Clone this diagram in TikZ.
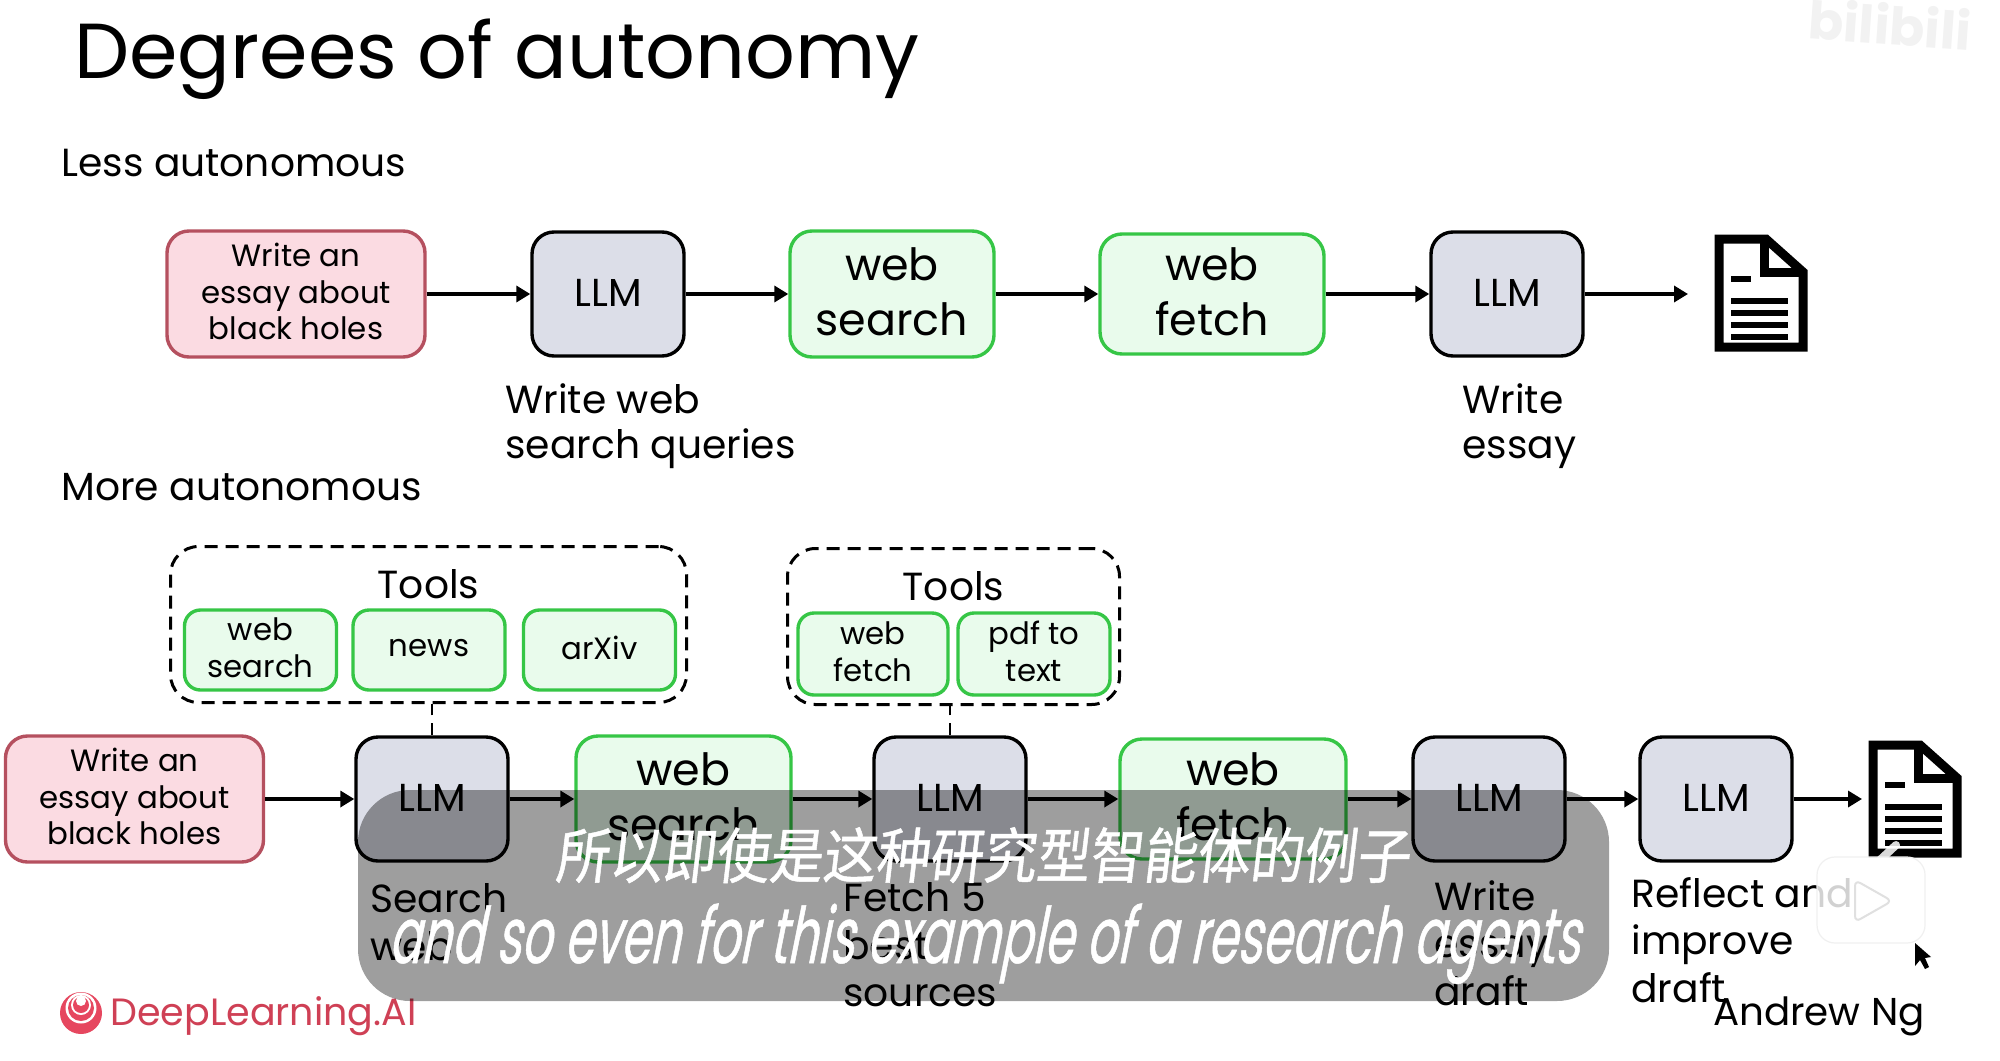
\documentclass[tikz,border=0pt]{standalone}
\usepackage{fontspec}
\setmainfont{Poppins}
\newfontfamily\zhcaption[FakeSlant=0.12,FakeStretch=0.89,FakeBold=0.8]{Noto Sans CJK SC}
\newfontfamily\encaption[FakeSlant=0.2,FakeStretch=0.61,FakeBold=0.6]{Poppins}
\usepackage{tikz}
\usetikzlibrary{calc}
\usetikzlibrary{arrows.meta}
\definecolor{taskfill}{HTML}{FBDBE2}
\definecolor{taskline}{HTML}{B5505F}
\definecolor{llmfill}{HTML}{DCDEE8}
\definecolor{toolfill}{HTML}{E9FBEC}
\definecolor{toolline}{HTML}{36C646}
\definecolor{logored}{HTML}{E6475F}
\tikzset{
  box/.style={draw,rounded corners=11pt,align=center,inner sep=0pt,line width=1.7pt},
  task/.style={box,fill=taskfill,draw=taskline,text depth=2.5pt,font=\fontsize{15.4}{18.2}\selectfont,minimum width=129pt,minimum height=63pt},
  llm/.style={box,fill=llmfill,draw=black,text depth=1pt,font=\fontsize{19.5}{22}\selectfont,minimum width=76pt,minimum height=62pt},
  tool/.style={box,fill=toolfill,draw=toolline,text depth=2pt,font=\fontsize{22.2}{27.5}\selectfont},
  smalltool/.style={box,fill=toolfill,draw=toolline,rounded corners=8pt,text depth=2.5pt,font=\fontsize{15.4}{18.5}\selectfont},
  toolbox/.style={draw,dashed,dash pattern=on 6.5pt off 4pt,rounded corners=14pt,line width=1.5pt,inner sep=0pt},
  note/.style={align=left,anchor=west,inner sep=0pt,font=\fontsize{19.6}{#1}\selectfont},
  note/.default=22.5,
  flow/.style={-{Triangle[length=7pt,width=8pt]},line width=1.7pt},
  docicon/.pic={
    \draw [line width=4.5pt,miter limit=2] (5,5) -- (52,5) -- (89,38) -- (89,113) -- (5,113) -- cycle;
    \draw [line width=4.5pt] (50,5) -- (50,38) -- (89,38);
    \fill (17,42) rectangle (37,48);
    \fill (17,64) rectangle (74,70);
    \fill (17,76) rectangle (74,82);
    \fill (17,88) rectangle (74,94);
    \fill (17,100) rectangle (74,106);
  }
}
\begin{document}
\begin{tikzpicture}[x=0.5pt,y=-0.5pt]
  \useasboundingbox [fill=white] (0,0) rectangle (2000,1060);

  \node [rotate=-4,font=\bfseries\fontsize{26}{26}\selectfont,text=black!5,inner sep=0pt] (mark) at (1890,24) {bilibili};

  \node [anchor=base west,inner sep=0pt,font=\fontsize{39}{40}\selectfont] (title) at (74,78) {Degrees of autonomy};
  \node [anchor=base west,inner sep=0pt,font=\fontsize{19.6}{22}\selectfont] (less) at (61,176) {Less autonomous};
  \node [anchor=base west,inner sep=0pt,font=\fontsize{19.6}{22}\selectfont] (more) at (61,500) {More autonomous};

  \node [task] (task1) at (296,294) {Write an\\essay about\\black holes};
  \node [llm] (llm1) at (608,294) {LLM};
  \node [tool,minimum width=102pt,minimum height=63pt] (search1) at (892,294) {web\\search};
  \node [tool,minimum width=112pt,minimum height=60pt] (fetch1) at (1212,294) {web\\fetch};
  \node [llm] (llm2) at (1507,294) {LLM};
  \pic at (1714,234) {docicon};
  \coordinate (end1) at (1688,294);

  \draw [flow] (task1) -- (llm1);
  \draw [flow] (llm1) -- (search1);
  \draw [flow] (search1) -- (fetch1);
  \draw [flow] (fetch1) -- (llm2);
  \draw [flow] (llm2) -- (end1);

  \node [note] (note1) at (505,426) {Write web\\search queries};
  \node [note] (note2) at (1462,426) {Write\\essay};

  \node [toolbox,minimum width=258pt,minimum height=78pt] (tools1) at (428.5,624.5) {};
  \node [anchor=base,inner sep=0pt,font=\fontsize{19.6}{22}\selectfont] (head1) at (tools1 |- 0,598) {Tools};
  \node [smalltool,minimum width=76pt,minimum height=40pt] (t1) at (260.5,650) {web\\search};
  \node [smalltool,minimum width=76pt,minimum height=40pt] (t2) at (429,650) {news};
  \node [smalltool,minimum width=76pt,minimum height=40pt] (t3) at (599.5,650) {arXiv};

  \node [toolbox,minimum width=166pt,minimum height=78pt] (tools2) at (953.5,626.5) {};
  \node [anchor=base,inner sep=0pt,font=\fontsize{19.6}{22}\selectfont] (head2) at (tools2 |- 0,600) {Tools};
  \node [smalltool,minimum width=75pt,minimum height=41pt] (t4) at (873,654) {web\\fetch};
  \node [smalltool,minimum width=76pt,minimum height=41pt] (t5) at (1034,654) {pdf to\\text};

  \node [task] (task2) at (134.5,799) {Write an\\essay about\\black holes};
  \node [llm] (llm3) at (432,799) {LLM};
  \node [tool,minimum width=107.5pt,minimum height=63pt] (search2) at (683.5,799) {web\\search};
  \node [llm] (llm4) at (950,799) {LLM};
  \node [tool,minimum width=113pt,minimum height=60pt] (fetch2) at (1233,799) {web\\fetch};
  \node [llm] (llm5) at (1489,799) {LLM};
  \node [llm] (llm6) at (1716,799) {LLM};
  \pic at (1868,740) {docicon};
  \coordinate (end2) at (1862,799);

  \draw [flow] (task2) -- (llm3);
  \draw [flow] (llm3) -- (search2);
  \draw [flow] (search2) -- (llm4);
  \draw [flow] (llm4) -- (fetch2);
  \draw [flow] (fetch2) -- (llm5);
  \draw [flow] (llm5) -- (llm6);
  \draw [flow] (llm6) -- (end2);

  \draw [dashed,dash pattern=on 6pt off 4pt,line width=1.3pt] (llm3.north) -- (llm3.north |- tools1.south);
  \draw [dashed,dash pattern=on 6pt off 4pt,line width=1.3pt] (llm4.north) -- (llm4.north |- tools2.south);

  \node [note=23.7] (note3) at (370,922) {Search\\web};
  \node [note=23.7] (note4) at (843,945) {Fetch 5\\best\\sources};
  \node [note=23.7] (note5) at (1434,943) {Write\\essay\\draft};
  \node [note=23.7] (note6) at (1631,940) {Reflect and\\improve\\draft};

  \fill [logored] (81,1013) circle [radius=21];
  \fill [white] (81,1008) circle [radius=15.5];
  \fill [logored] (81,1008) circle [radius=13];
  \fill [white] (81,1005) circle [radius=10];
  \fill [logored] (81,1005) circle [radius=8];
  \fill [white] (81,1001) circle [radius=5];
  \node [anchor=base west,inner sep=0pt,text=logored!90!black,font=\fontsize{19}{22}\selectfont] (brand) at (110,1025) {DeepLearning.AI};
  \node [anchor=base east,inner sep=0pt,font=\fontsize{19.4}{22}\selectfont] (author) at (1925,1025) {Andrew Ng};

  \fill [black,opacity=0.38,rounded corners=26pt] (358,790) rectangle (1609,1001);
  \node [anchor=base,inner sep=0pt,text=white,font=\zhcaption\fontsize{30}{32}\selectfont] (zh) at (982,878) {所以即使是这种研究型智能体的例子};
  \node [anchor=base,inner sep=0pt,text=white,font=\encaption\fontsize{39}{40}\selectfont] (en) at (984,963) {and so even for this example of a research agents};

  \draw [white,opacity=0.85,line width=4pt,line cap=round] (1846,846) -- (1860,860);
  \draw [white,opacity=0.85,line width=4pt,line cap=round] (1896,845) -- (1880,860);
  \draw [fill=white,fill opacity=0.82,draw=black!6,line width=0.6pt,rounded corners=9pt] (1817,857) rectangle (1925,943);
  \draw [fill=white,draw=black!12,line width=1pt,rounded corners=3pt] (1855,880) -- (1892,901) -- (1855,922) -- cycle;
  \fill [black] (1915,943) -- (1915,966) -- (1920,960) -- (1925,969) -- (1929,967) -- (1925,958) -- (1931,957) -- cycle;
\end{tikzpicture}
\end{document}
